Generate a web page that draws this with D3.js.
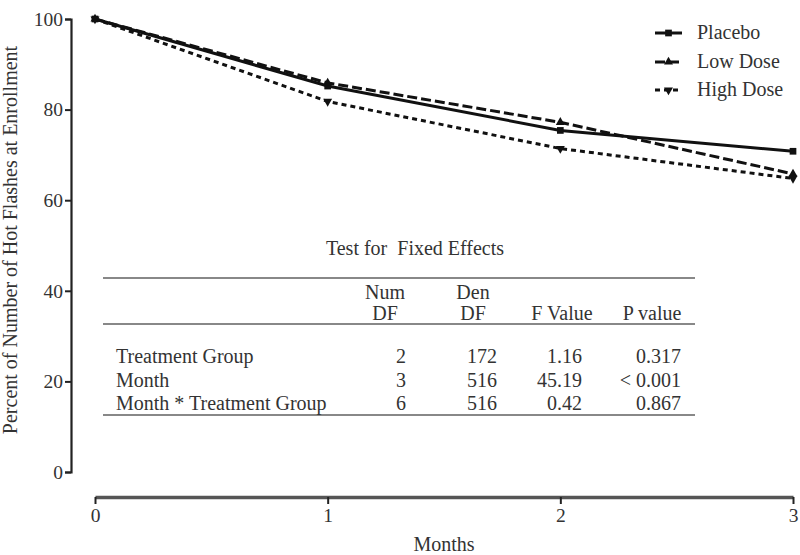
<!DOCTYPE html>
<html>
<head>
<meta charset="utf-8">
<script src="https://cdn.jsdelivr.net/npm/d3@7"></script>
<style>
  html, body { margin: 0; padding: 0; background: #fff; }
  svg { display: block; }
  text { font-family: "Liberation Serif", "Times New Roman", serif; fill: #333; }
</style>
</head>
<body>
<svg id="chart" width="800" height="555"></svg>
<script>
// ---- Data ----
const months = [0, 1, 2, 3];
const placebo  = [100, 85.2, 75.4, 70.8];
const lowDose  = [100, 85.9, 77.2, 65.8];
const highDose = [100, 81.8, 71.4, 64.8];
const seriesNames = ["Placebo", "Low Dose", "High Dose"];
const yTicks = [0, 20, 40, 60, 80, 100];
const xTicks = [0, 1, 2, 3];

const tableTitle = "Test for  Fixed Effects";
const tableHeader1 = ["", "Num", "Den", "", ""];
const tableHeader2 = ["", "DF", "DF", "F Value", "P value"];
const effectNames = ["Treatment Group", "Month", "Month * Treatment Group"];
const numDF = ["2", "3", "6"];
const denDF = ["172", "516", "516"];
const fValues = ["1.16", "45.19", "0.42"];
const pValues = ["0.317", "< 0.001", "0.867"];

// ---- Setup ----
const svg = d3.select("#chart");
const x = d3.scaleLinear().domain([0, 3]).range([95, 793]);
const y = d3.scaleLinear().domain([0, 100]).range([472, 19]);
const FS = 20;
const TFS = 19.5;

// Y axis
const yAxisG = svg.append("g").attr("transform", "translate(71,0)")
  .call(d3.axisLeft(y).tickValues(yTicks).tickSize(6).tickPadding(2).tickFormat(d3.format("d")));
yAxisG.select(".domain").attr("stroke", "#222").attr("stroke-width", 2.2);
yAxisG.selectAll(".tick line").attr("stroke", "#222").attr("stroke-width", 2);
yAxisG.selectAll(".tick text").attr("font-size", TFS).attr("fill", "#444")
  .attr("font-family", "Liberation Serif");

// X axis
const xAxisG = svg.append("g").attr("transform", "translate(0,497)")
  .call(d3.axisBottom(x).tickValues(xTicks).tickSize(7).tickSizeOuter(0).tickPadding(4)
    .tickFormat(d3.format("d")));
xAxisG.select(".domain").attr("stroke", "#555").attr("stroke-width", 3.5);
xAxisG.selectAll(".tick line").attr("stroke", "#222").attr("stroke-width", 2);
xAxisG.selectAll(".tick text").attr("font-size", TFS).attr("fill", "#444")
  .attr("font-family", "Liberation Serif");

// Axis titles
svg.append("text").attr("x", 444).attr("y", 551).attr("text-anchor", "middle")
  .attr("font-size", FS).text("Months");
svg.append("text").attr("transform", "translate(17,240) rotate(-90)")
  .attr("text-anchor", "middle").attr("font-size", FS)
  .text("Percent of Number of Hot Flashes at Enrollment");

// ---- Series ----
const series = [
  { name: seriesNames[0], values: placebo,  dash: null,  marker: d3.symbolSquare, rot: 0, size: 45 },
  { name: seriesNames[1], values: lowDose,  dash: "10,4", marker: d3.symbolTriangle, rot: 0, size: 35 },
  { name: seriesNames[2], values: highDose, dash: "5,4",  marker: d3.symbolTriangle, rot: 180, size: 35 }
];

const line = d3.line().x((d, i) => x(months[i])).y(d => y(d));

series.forEach(s => {
  const g = svg.append("g");
  g.append("path").datum(s.values).attr("d", line)
    .attr("fill", "none").attr("stroke", "#111").attr("stroke-width", 3)
    .attr("stroke-dasharray", s.dash);
  g.selectAll("path.m").data(s.values).enter().append("path").attr("class", "m")
    .attr("d", d3.symbol().type(s.marker).size(s.size))
    .attr("transform", (d, i) => `translate(${x(months[i])},${y(d)}) rotate(${s.rot})`)
    .attr("fill", "#111");
});

// ---- Legend ----
const legend = svg.append("g");
const legY = [33, 62, 90];
series.forEach((s, i) => {
  legend.append("line").attr("x1", 655).attr("x2", 682).attr("y1", legY[i]).attr("y2", legY[i])
    .attr("stroke", "#111").attr("stroke-width", 3).attr("stroke-dasharray", s.dash);
  legend.append("path").attr("d", d3.symbol().type(s.marker).size(s.size))
    .attr("transform", `translate(668.5,${legY[i]}) rotate(${s.rot})`).attr("fill", "#111");
  legend.append("text").attr("x", 697).attr("y", legY[i] + 6).attr("font-size", FS).text(s.name);
});

// ---- Table ----
const tbl = svg.append("g");
tbl.append("text").attr("x", 415).attr("y", 255).attr("text-anchor", "middle")
  .attr("font-size", FS).style("white-space", "pre").text(tableTitle);
[278, 324, 415].forEach(ry => {
  tbl.append("line").attr("x1", 103).attr("x2", 695).attr("y1", ry).attr("y2", ry)
    .attr("stroke", "#888").attr("stroke-width", 2.2);
});
const headCenters = [0, 385, 473, 562, 652];
tableHeader1.forEach((t, i) => {
  if (t) tbl.append("text").attr("x", headCenters[i]).attr("y", 299).attr("text-anchor", "middle")
    .attr("font-size", FS).text(t);
});
tableHeader2.forEach((t, i) => {
  if (t) tbl.append("text").attr("x", headCenters[i]).attr("y", 320).attr("text-anchor", "middle")
    .attr("font-size", FS).text(t);
});
const rowY = [363, 387, 410];
const colRight = [406, 497, 582, 681];
const cols = [numDF, denDF, fValues, pValues];
effectNames.forEach((name, r) => {
  tbl.append("text").attr("x", 116).attr("y", rowY[r]).attr("font-size", FS).text(name);
  cols.forEach((c, ci) => {
    tbl.append("text").attr("x", colRight[ci]).attr("y", rowY[r]).attr("text-anchor", "end")
      .attr("font-size", FS).text(c[r]);
  });
});
</script>
</body>
</html>
